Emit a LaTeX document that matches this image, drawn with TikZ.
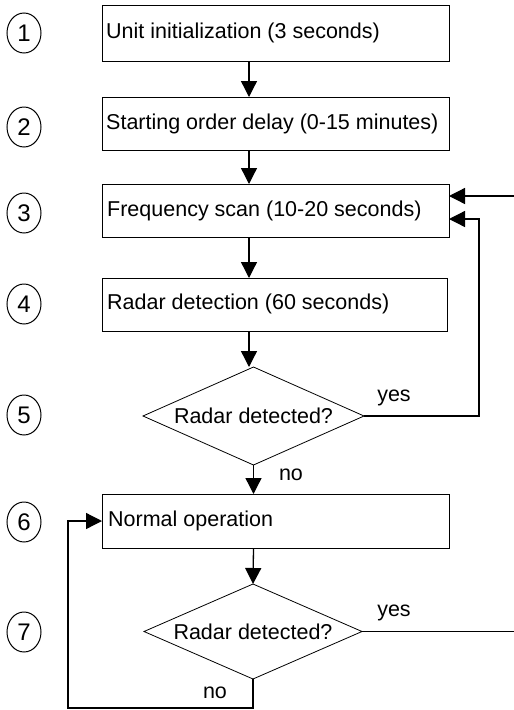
\documentclass[tikz,border=0pt]{standalone}
\usepackage{fontspec}
\setmainfont{Liberation Sans}
\usetikzlibrary{shapes.geometric,arrows.meta}
\tikzset{
  stepbox/.style={draw, line width=0.8pt, rectangle, minimum width=347pt, inner sep=0pt, outer sep=0pt},
  boxtext/.style={anchor=west, inner sep=0pt, font=\fontsize{21.5}{25}\selectfont},
  decision/.style={draw, line width=0.8pt, diamond, aspect=2.25, inner sep=0pt, outer sep=0pt, font=\fontsize{21.5}{25}\selectfont},
  numcirc/.style={draw, line width=1pt, ellipse, minimum width=34pt, minimum height=40pt, inner sep=0pt, font=\fontsize{24}{28}\selectfont},
  lbl/.style={inner sep=0pt, font=\fontsize{21.5}{25}\selectfont},
  conn/.style={line width=1.3pt},
  arr/.style={conn, -{Triangle[length=16pt,width=16pt]}},
}
\begin{document}
\begin{tikzpicture}[x=1pt,y=-1pt]
\useasboundingbox[fill=white] (0,0) rectangle (514,710);
% boxes
\node[stepbox, minimum height=56pt] (b1) at (275.5,33) {};
\node[stepbox, minimum height=53pt] (b2) at (275.5,123.5) {};
\node[stepbox, minimum height=53pt] (b3) at (275.5,210.5) {};
\node[stepbox, minimum height=53pt, minimum width=345pt] (b4) at (274.5,304.5) {};
\node[stepbox, minimum height=54pt] (b6) at (275.5,521) {};
\node[boxtext] (t1) at (106,33) {Unit initialization (3 seconds)};
\node[boxtext] (t2) at (106,124) {Starting order delay (0-15 minutes)};
\node[boxtext] (t3) at (107,211) {Frequency scan (10-20 seconds)};
\node[boxtext] (t4) at (107,304) {Radar detection (60 seconds)};
\node[boxtext] (t6) at (108,521) {Normal operation};
% decisions
\node[decision, minimum width=221pt, minimum height=98pt] (d5) at (253.5,416) {Radar detected?};
\node[decision, minimum width=218pt, minimum height=95pt] (d7) at (253,631.5) {Radar detected?};
% numbered circles
\node[numcirc] (n1) at (24,33) {1};
\node[numcirc] (n2) at (24,127) {2};
\node[numcirc] (n3) at (24,213) {3};
\node[numcirc] (n4) at (24,304) {4};
\node[numcirc] (n5) at (24,415) {5};
\node[numcirc] (n6) at (24,522) {6};
\node[numcirc] (n7) at (24,632) {7};
% labels
\node[lbl] (y5) at (394,398) {yes};
\node[lbl] (no5) at (291,475) {no};
\node[lbl] (y7) at (394,613) {yes};
\node[lbl] (no7) at (215,693) {no};
% helper coordinates
\coordinate (col) at (249,0);
\coordinate (col2) at (253.5,0);
\coordinate (r5) at (479,219);
\coordinate (in3) at (514,196);
\coordinate (lft) at (68,708);
% connectors
\draw[arr] (b1.south -| col) -- (b2.north -| col);
\draw[arr] (b2.south -| col) -- (b3.north -| col);
\draw[arr] (b3.south -| col) -- (b4.north -| col);
\draw[arr] (b4.south -| col) -- (d5.north -| col);
\draw[arr] (d5.south) -- (b6.north -| col2);
\draw[arr] (b6.south -| col2) -- (d7.north);
\draw[arr] (d5.east) -| (r5) -- (r5 -| b3.east);
\draw[arr] (in3) -- (in3 -| b3.east);
\draw[conn] (d7.east) -- (d7.east -| in3);
\draw[arr] (d7.south) |- (lft) |- (b6.west);
\end{tikzpicture}
\end{document}
